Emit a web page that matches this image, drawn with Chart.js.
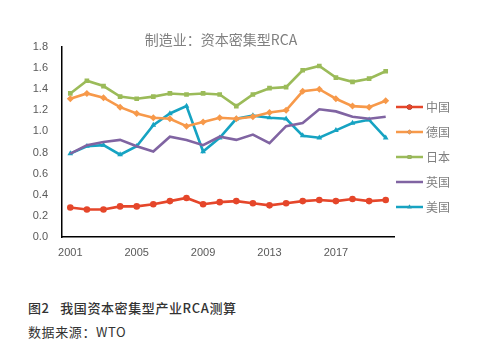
<!DOCTYPE html>
<html><head><meta charset="utf-8">
<script src="https://cdn.jsdelivr.net/npm/chart.js@4/dist/chart.umd.min.js"></script>
<style>
html,body{margin:0;padding:0;background:#fff;width:492px;height:358px;overflow:hidden;}
#wrap{position:absolute;left:0;top:0;width:492px;height:270px;}
.cap{position:absolute;left:28px;font-family:"Noto Sans CJK SC",sans-serif;color:#333;font-size:13px;letter-spacing:0.6px;white-space:pre;}
</style></head>
<body>
<div id="wrap"><canvas id="c" width="492" height="270"></canvas></div>
<div class="cap" style="top:298px;font-weight:500;">图2   我国资本密集型产业RCA测算</div>
<div class="cap" style="top:322px;">数据来源：WTO</div>
<script>
const years = ['2001','2002','2003','2004','2005','2006','2007','2008','2009','2010','2011','2012','2013','2014','2015','2016','2017','2018','2019','2020'];
const china   = [0.28,0.26,0.26,0.29,0.29,0.31,0.34,0.37,0.31,0.33,0.34,0.32,0.30,0.32,0.34,0.35,0.34,0.36,0.34,0.35];
const germany = [1.31,1.36,1.32,1.23,1.17,1.13,1.12,1.05,1.09,1.13,1.12,1.14,1.18,1.20,1.38,1.40,1.31,1.24,1.23,1.29];
const japan   = [1.36,1.48,1.43,1.33,1.31,1.33,1.36,1.35,1.36,1.35,1.24,1.35,1.41,1.42,1.58,1.62,1.51,1.47,1.50,1.57];
const uk      = [0.79,0.87,0.90,0.92,0.86,0.81,0.95,0.92,0.87,0.95,0.92,0.97,0.89,1.05,1.08,1.21,1.19,1.14,1.12,1.14];
const usa     = [0.79,0.86,0.87,0.78,0.86,1.06,1.17,1.24,0.81,0.94,1.12,1.15,1.13,1.12,0.96,0.94,1.01,1.08,1.11,0.94];
const seriesNames = ['中国','德国','日本','英国','美国'];
const yTicks = [0,0.2,0.4,0.6,0.8,1.0,1.2,1.4,1.6,1.8];

const colors = ['#E5462A','#F7994A','#9BBB59','#8064A2','#16A3C2'];
const styles = ['circle','rectRot','rect',false,'triangle'];
const vals = [china,germany,japan,uk,usa];

const datasets = vals.map((d,i)=>({
  label: seriesNames[i], data: d,
  borderColor: colors[i], backgroundColor: colors[i],
  borderWidth: 2.6, tension: 0,
  pointStyle: styles[i], pointRadius: styles[i]===false?0:(styles[i]==='rectRot'?3.5:3.3),
  pointBorderWidth: 0, pointHoverRadius: 3
}));

const legendPlugin = {
  id:'customLegend',
  afterDraw(chart){
    const ctx = chart.ctx;
    ctx.save();
    const x0 = 396, x1 = 423, tx = 426;
    const ys = [107,132,157,182,207];
    chart.data.datasets.forEach((ds,i)=>{
      const y = ys[i];
      ctx.strokeStyle = ds.borderColor; ctx.lineWidth = 2.5;
      ctx.beginPath(); ctx.moveTo(x0,y); ctx.lineTo(x1,y); ctx.stroke();
      if (ds.pointStyle) {
        Chart.helpers.drawPoint(ctx,{pointStyle:ds.pointStyle,radius:2.6,borderWidth:0,rotation:0},(x0+x1)/2,y);
        ctx.fillStyle = ds.backgroundColor; ctx.fill();
      }
      ctx.fillStyle = '#7f7f7f';
      ctx.font = '12px "Noto Sans CJK SC"';
      ctx.textBaseline = 'middle'; ctx.textAlign = 'left';
      ctx.fillText(ds.label, tx, y);
    });
    ctx.fillStyle = '#808080';
    ctx.font = '14px "Noto Sans CJK SC"';
    ctx.textAlign = 'center'; ctx.textBaseline = 'middle';
    ctx.fillText('制造业：资本密集型RCA', 221, 40);
    ctx.restore();
  }
};

new Chart(document.getElementById('c'), {
  type:'line',
  data:{labels:years, datasets},
  plugins:[legendPlugin],
  options:{
    responsive:false, animation:false,
    layout:{padding:{left:0,right:98,top:47,bottom:0}},
    plugins:{legend:{display:false},title:{display:false},tooltip:{enabled:false}},
    scales:{
      x:{
        offset:true,
        grid:{display:false,drawTicks:false},
        border:{display:true,color:'#000',width:1.5},
        ticks:{autoSkip:false,maxRotation:0,padding:9,color:'#595959',
          font:{family:'"Liberation Sans"',size:11},
          callback:(v,i)=> i%4===0 ? years[i] : ''},
        afterFit:(s)=>{s.height=33;}
      },
      y:{
        min:0,max:1.8,
        afterBuildTicks:(s)=>{s.ticks = yTicks.map(v=>({value:v}));},
        grid:{display:false,drawTicks:false},
        border:{display:true,color:'#000',width:1.5},
        ticks:{padding:14,color:'#595959',font:{family:'"Liberation Sans"',size:11},
          callback:(v)=>Number(v).toFixed(1)},
        afterFit:(s)=>{s.width=62;}
      }
    }
  }
});
</script>
</body></html>
